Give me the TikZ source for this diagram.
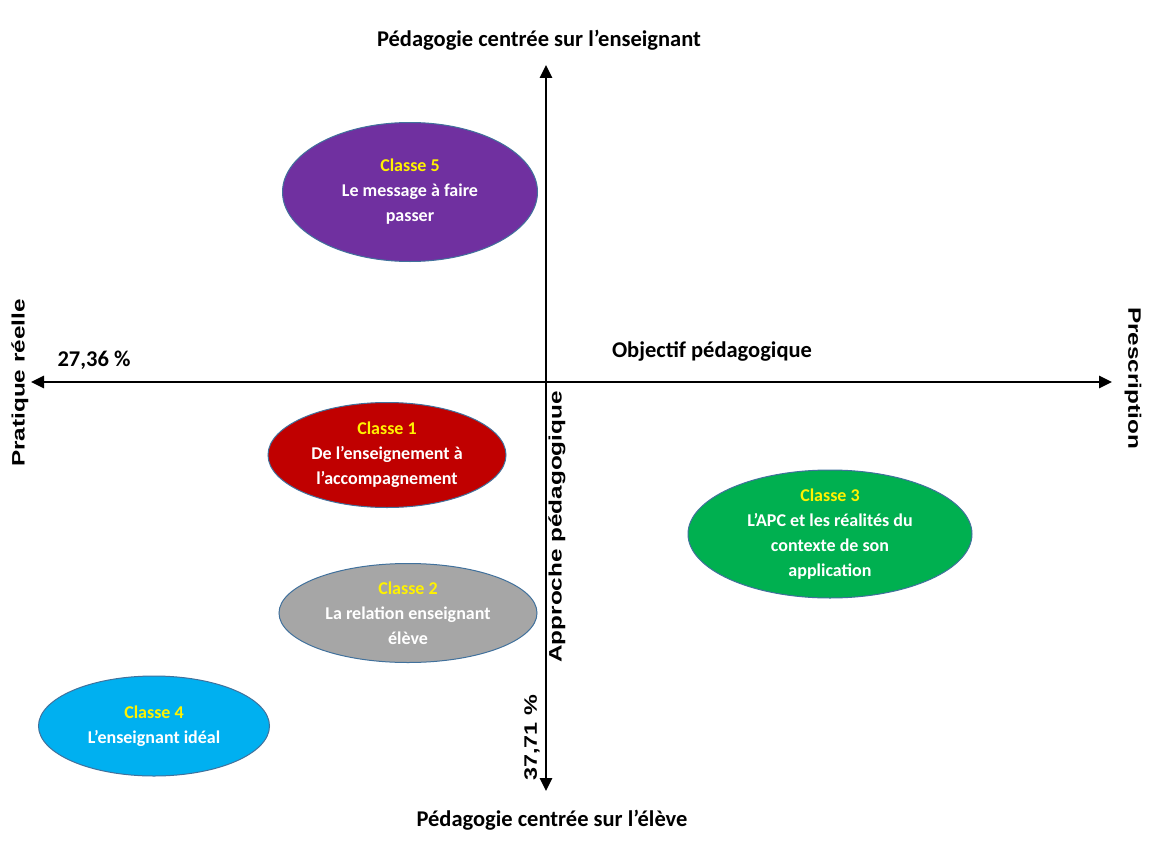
\documentclass[tikz,border=0pt]{standalone}
\usepackage{fontspec}
\setmainfont{Carlito}
\newfontfamily\arialf{Liberation Sans}
\usetikzlibrary{shapes.geometric,arrows.meta}
\definecolor{violet5}{HTML}{7030A0}
\definecolor{rouge1}{HTML}{C00000}
\definecolor{vert3}{HTML}{00B050}
\definecolor{gris2}{HTML}{A6A6A6}
\definecolor{bleu4}{HTML}{00B0F0}
\definecolor{bord}{HTML}{41719C}
\tikzset{
  classe/.style={ellipse,draw=bord,line width=1pt,inner sep=0pt,
    text=white,align=center,font=\fontsize{18}{25}\selectfont\bfseries},
  axe/.style={line width=2.8pt,{Triangle[length=13pt,width=12pt]}-{Triangle[length=13pt,width=12pt]}},
  titre/.style={font=\fontsize{22.5}{26}\selectfont\bfseries},
  tourne/.style={font=\fontsize{18}{22}\selectfont\arialf\bfseries}
}
\newcommand{\cl}[1]{\textcolor{yellow}{#1}}
\begin{document}
\begin{tikzpicture}[x=1pt,y=-1pt]
   \useasboundingbox[fill=white] (0,0) rectangle (1173,859);
   % axes
   \coordinate (haut) at (546,65);
   \coordinate (bas) at (546,791);
   \coordinate (gauche) at (31,382);
   \coordinate (droite) at (1112,382);
   \draw[axe] (bas) -- (haut);
   \draw[axe] (gauche) -- (droite);
   % titres des axes
   \node[titre] (enseignant) at (539,40) {Pédagogie centrée sur l’enseignant};
   \node[titre] (eleve) at (552,820) {Pédagogie centrée sur l’élève};
   \node[titre] (objectif) at (712,351) {Objectif pédagogique};
   \node[titre] (pct1) at (94,360) {27,36 \%};
   \node[tourne,rotate=90] (pratique) at (20,383) {\scalebox{1.35}[1]{Pratique réelle}};
   \node[tourne,rotate=-90] (prescription) at (1133,378) {\scalebox{1.35}[1]{Prescription}};
   \node[tourne,rotate=90] (approche) at (557,527) {\scalebox{1.35}[1]{Approche pédagogique}};
   \node[tourne,rotate=90] (pct2) at (532,738) {\scalebox{1.3}[1]{37,71 \%}};
   % classes
   \node[classe,fill=violet5,minimum width=255pt,minimum height=139pt] (c5) at (410,192)
      {\cl{Classe 5}\\Le message à faire\\passer};
   \node[classe,fill=rouge1,minimum width=238pt,minimum height=105pt] (c1) at (387,455)
      {\cl{Classe 1}\\De l’enseignement à\\l’accompagnement};
   \node[classe,fill=vert3,minimum width=284pt,minimum height=128pt] (c3) at (830,534)
      {\cl{Classe 3}\\L’APC et les réalités du\\contexte de son\\application};
   \node[classe,fill=gris2,minimum width=258pt,minimum height=99pt] (c2) at (408,613)
      {\cl{Classe 2}\\La relation enseignant\\élève};
   \node[classe,fill=bleu4,minimum width=231pt,minimum height=100pt] (c4) at (154,726)
      {\cl{Classe 4}\\L’enseignant idéal};
\end{tikzpicture}
\end{document}
